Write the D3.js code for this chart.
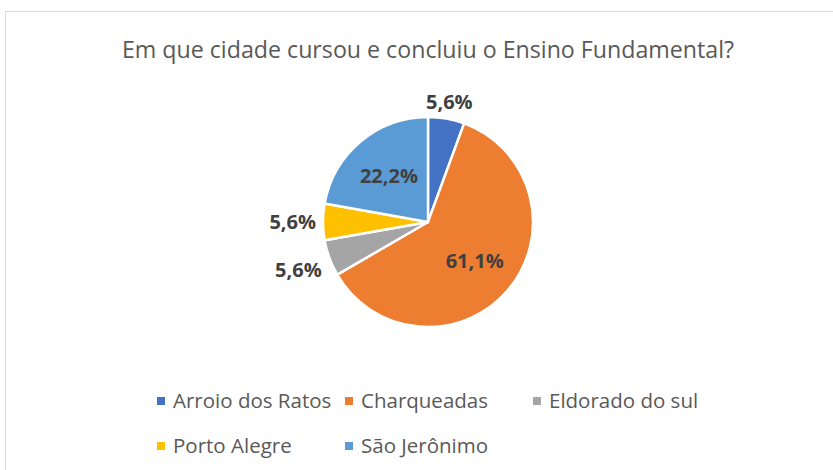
<!DOCTYPE html>
<html><head><meta charset="utf-8">
<script src="https://cdn.jsdelivr.net/npm/d3@7"></script>
<style>body{margin:0;background:#fff}svg{display:block}text{font-family:"Open Sans",sans-serif}</style>
</head><body>
<svg id="c" width="833" height="470"></svg>
<script>
const title = "Em que cidade cursou e concluiu o Ensino Fundamental?";
const categories = ["Arroio dos Ratos","Charqueadas","Eldorado do sul","Porto Alegre","São Jerônimo"];
const values = [5.6, 61.1, 5.6, 5.6, 22.2];
const labels = ["5,6%","61,1%","5,6%","5,6%","22,2%"];
const colors = ["#4472C4","#ED7D31","#A5A5A5","#FFC000","#5B9BD5"];

const svg = d3.select("#c");
svg.append("rect").attr("x",5.5).attr("y",11.5).attr("width",840).attr("height",470)
  .attr("fill","#fff").attr("stroke","#d9d9d9");
svg.append("text").attr("x",428).attr("y",58).attr("text-anchor","middle")
  .attr("font-size",23.2).attr("fill","#595959").text(title);

const cx=428, cy=222, r=105;
const pie = d3.pie().sort(null).value(d=>d)(values);
const arc = d3.arc().innerRadius(0).outerRadius(r);
const g = svg.append("g").attr("transform",`translate(${cx},${cy})`);
g.selectAll("path").data(pie).enter().append("path")
  .attr("d",arc).attr("fill",(d,i)=>colors[i]).attr("stroke","#fff").attr("stroke-width",2.5);

const inArc = d3.arc().innerRadius(r*0.58).outerRadius(r*0.58);
g.selectAll("text.lbl").data(pie).enter().append("text")
  .attr("class","lbl")
  .attr("text-anchor","middle").attr("dy","0.36em")
  .attr("font-size",20).attr("font-weight","bold").attr("fill","#404040")
  .text((d,i)=>labels[i])
  .each(function(d,i){
    const el = d3.select(this);
    if (values[i] > 10) {
      const c = inArc.centroid(d);
      el.attr("x",c[0]).attr("y",c[1]);
    } else {
      const bb = this.getBBox();
      const a = (d.startAngle+d.endAngle)/2;
      const s = Math.sin(a), co = -Math.cos(a);
      const dist = r + Math.abs(s)*(bb.width/2+9) + Math.abs(co)*bb.height/2 - 2;
      el.attr("x", s*dist).attr("y", co*dist);
    }
  });

const legendPos = [[161,401],[349,401],[537,401],[161,446],[349,446]];
const lg = svg.append("g");
categories.forEach((c,i)=>{
  const [x,y]=legendPos[i];
  lg.append("rect").attr("x",x-4).attr("y",y-4).attr("width",8).attr("height",8).attr("fill",colors[i]);
  lg.append("text").attr("x",x+12).attr("y",y).attr("dy","0.36em")
    .attr("font-size",20.5).attr("fill","#595959").text(c);
});
</script>
</body></html>
